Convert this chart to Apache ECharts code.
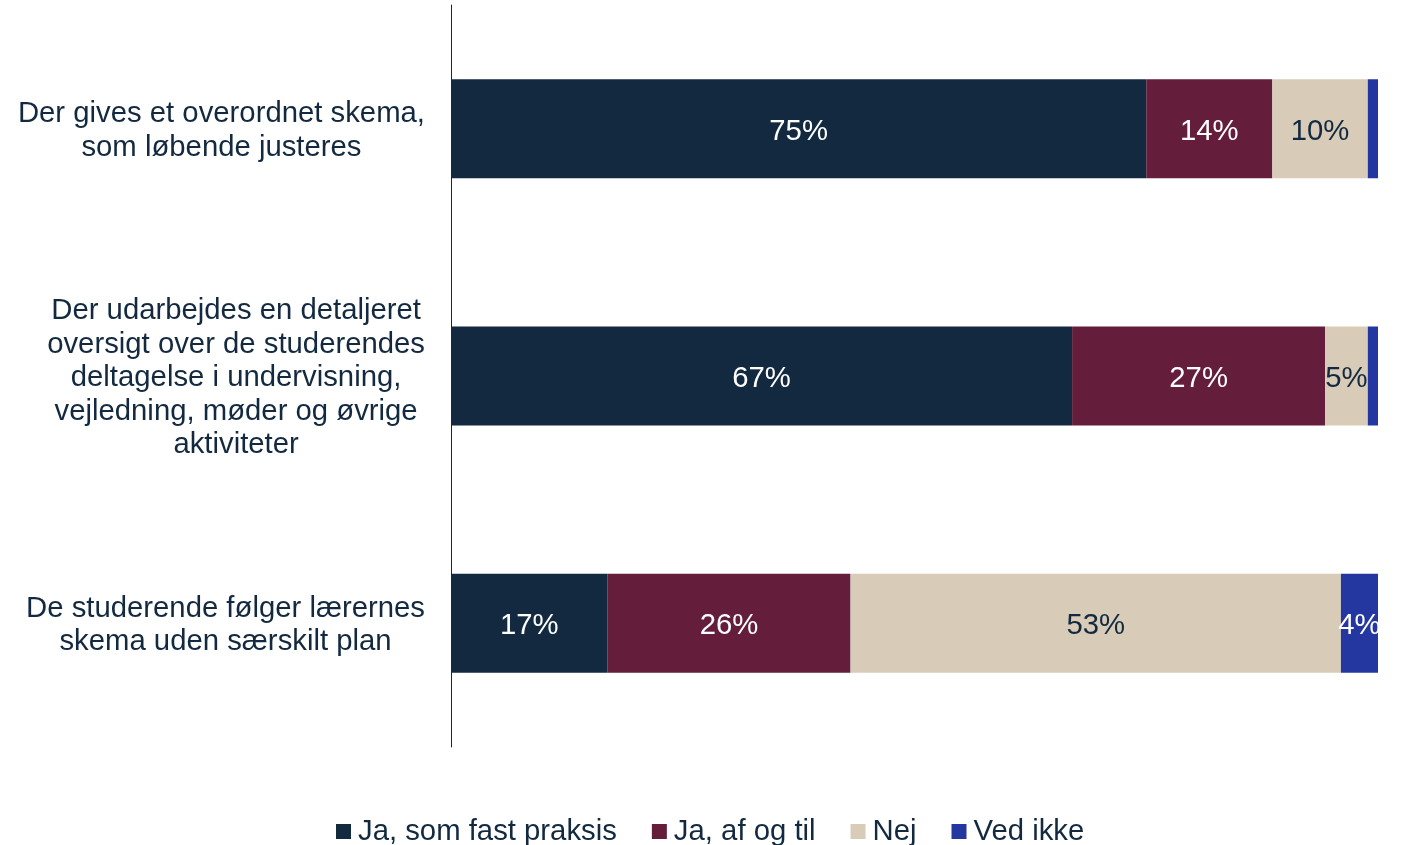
<!DOCTYPE html>
<html>
<head>
<meta charset="utf-8">
<script src="https://cdn.jsdelivr.net/npm/echarts@6/dist/echarts.min.js"></script>
<style>
html,body{margin:0;padding:0;background:#fff;}
#chart{width:1401px;height:845px;}
</style>
</head>
<body>
<div id="chart"></div>
<script>
const categories = [
  "Der gives et overordnet skema,\nsom løbende justeres",
  "Der udarbejdes en detaljeret\noversigt over de studerendes\ndeltagelse i undervisning,\nvejledning, møder og øvrige\naktiviteter",
  "De studerende følger lærernes\nskema uden særskilt plan"
];
const seriesNames = ["Ja, som fast praksis", "Ja, af og til", "Nej", "Ved ikke"];
const jaFast = [75, 67, 16.9];
const jaAfOgTil = [13.6, 27.3, 26.2];
const nej = [10.3, 4.6, 52.9];
const vedIkke = [1.1, 1.1, 4];
const colors = ["#12293F", "#641E3C", "#D8CBB8", "#2437A0"];
const labelColors = ["#ffffff", "#ffffff", "#12293F", "#ffffff"];
const textColor = "#12293F";
const font = "'Liberation Sans', Arial, sans-serif";
const fs = 29.3;

const data = [jaFast, jaAfOgTil, nej, vedIkke];
const chart = echarts.init(document.getElementById('chart'));
chart.setOption({
  animation: false,
  grid: {left: 451, right: 23, top: 5, bottom: 98, containLabel: false},
  legend: {
    data: seriesNames,
    left: 331, top: 812,
    itemWidth: 15, itemHeight: 15, itemGap: 35,
    icon: 'rect',
    textStyle: {fontSize: fs, color: textColor, fontFamily: font, padding: [0, 0, 0, 2]}
  },
  xAxis: {type: 'value', min: 0, max: 100, show: false},
  yAxis: {
    type: 'category', data: categories, inverse: true,
    axisLine: {show: true, lineStyle: {color: textColor, width: 1}},
    axisTick: {show: false},
    axisLabel: {
      margin: 26,
      fontSize: fs, color: textColor, fontFamily: font, lineHeight: 33.5,
      padding: [4, 0, 0, 0],
      formatter: v => v.split('\n').map(l => '{c|' + l + '}').join('\n'),
      rich: {c: {align: 'center', fontSize: fs, color: textColor, fontFamily: font, lineHeight: 33.5}}
    }
  },
  series: seriesNames.map((name, i) => ({
    name, type: 'bar', stack: 'total', data: data[i],
    barWidth: 99,
    itemStyle: {color: colors[i]},
    label: {
      show: true, position: 'inside', offset: [0, 3],
      fontSize: fs, fontFamily: font, color: labelColors[i],
      formatter: p => p.value >= 2 ? Math.round(p.value) + '%' : ''
    }
  }))
});
</script>
</body>
</html>
